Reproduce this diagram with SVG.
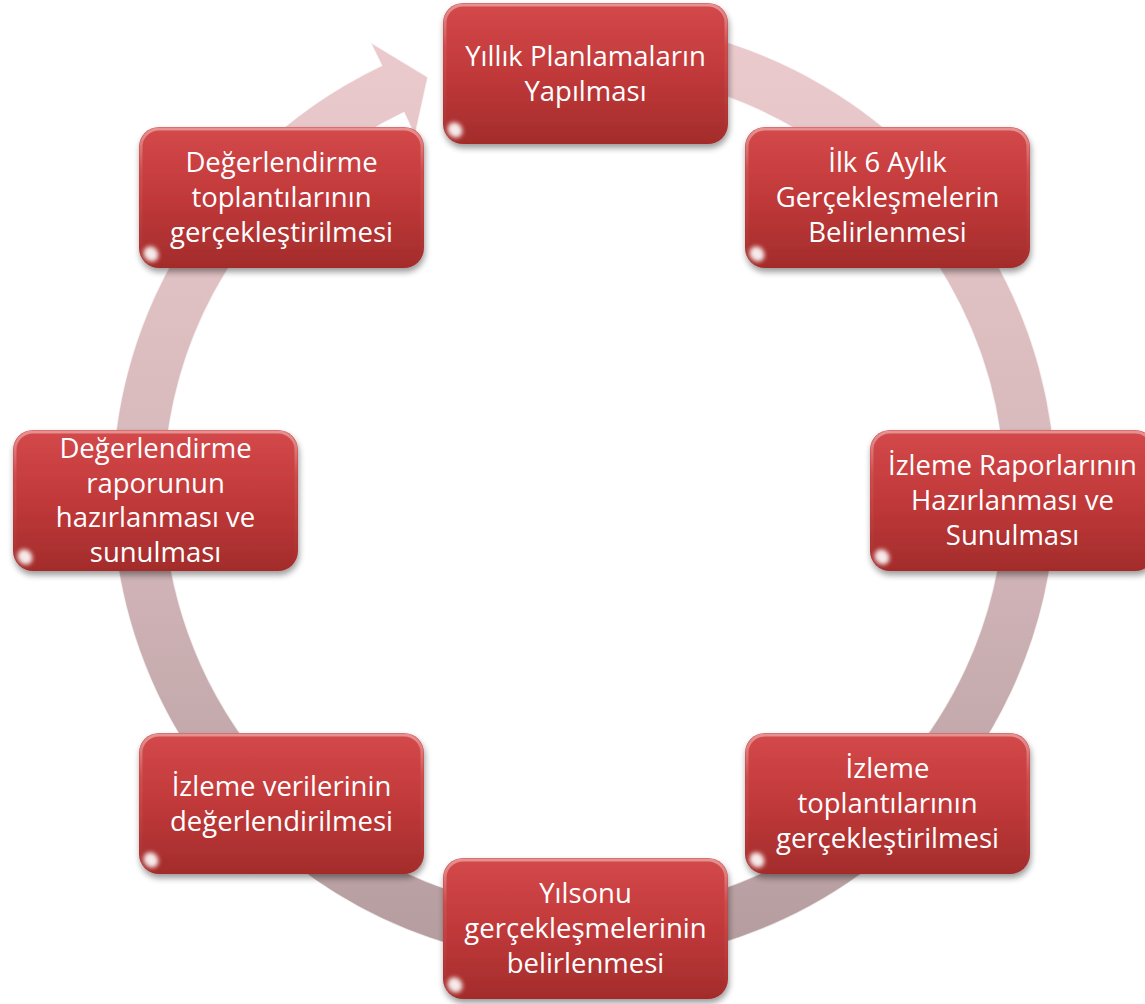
<svg xmlns="http://www.w3.org/2000/svg" width="1145" height="1004" viewBox="0 0 1145 1004">
<defs>
<style>
.t { font-family: "Open Sans", "Noto Sans", sans-serif; font-size: 27.5px; fill: #ffffff; text-anchor: middle; }
</style>
<linearGradient id="ringGrad" gradientUnits="userSpaceOnUse" x1="0" y1="20" x2="0" y2="965">
<stop offset="0" stop-color="#eccbce"/>
<stop offset="0.5" stop-color="#d5b8bb"/>
<stop offset="1" stop-color="#b49c9e"/>
</linearGradient>
<linearGradient id="boxGrad" x1="0" y1="0" x2="0" y2="1">
<stop offset="0" stop-color="#d4494a"/>
<stop offset="0.5" stop-color="#c1393a"/>
<stop offset="1" stop-color="#a32c2b"/>
</linearGradient>
<linearGradient id="edgeGrad" x1="0" y1="0" x2="0" y2="1">
<stop offset="0" stop-color="#ffffff" stop-opacity="0.4"/>
<stop offset="0.3" stop-color="#ffffff" stop-opacity="0.08"/>
<stop offset="1" stop-color="#ffffff" stop-opacity="0"/>
</linearGradient>
<filter id="shadow" x="-10%" y="-10%" width="125%" height="130%">
<feGaussianBlur in="SourceAlpha" stdDeviation="3"/>
<feOffset dx="1" dy="4"/>
<feComponentTransfer><feFuncA type="linear" slope="0.4"/></feComponentTransfer>
<feMerge><feMergeNode/><feMergeNode in="SourceGraphic"/></feMerge>
</filter>
<filter id="soft" x="-100%" y="-100%" width="300%" height="300%"><feGaussianBlur stdDeviation="2.2"/></filter>
<g id="box">
<rect width="285" height="141" rx="20" fill="url(#boxGrad)" filter="url(#shadow)"/>
<rect x="2" y="2" width="281" height="137" rx="18" fill="none" stroke="url(#edgeGrad)" stroke-width="3"/>
<ellipse cx="12" cy="127" rx="7" ry="8" transform="rotate(-40 12 127)" fill="#ffffff" opacity="0.9" filter="url(#soft)"/>
</g>
</defs>
<rect width="1145" height="1004" fill="#ffffff"/>
<g id="connectors">
<path id="cycle-arrow" d="M 625.1 21.8 A 472 472 0 1 1 381.6 65.6 L 370.4 42.2 L 428 77 L 415 136.1 L 403.9 112.6 A 420 420 0 1 0 620.6 73.6 Z" fill="url(#ringGrad)" stroke="#ffffff" stroke-opacity="0.7" stroke-width="1.5"/>
</g>
<g id="node1"><use href="#box" x="443" y="3"/>
<text class="t" x="585.5" y="65.5">Yıllık Planlamaların</text>
<text class="t" x="585.5" y="100.5">Yapılması</text></g>
<g id="node2"><use href="#box" x="745" y="127"/>
<text class="t" x="887.5" y="172">İlk 6 Aylık</text>
<text class="t" x="887.5" y="207">Gerçekleşmelerin</text>
<text class="t" x="887.5" y="242">Belirlenmesi</text></g>
<g id="node3"><use href="#box" x="870" y="430"/>
<text class="t" x="1012.5" y="475">İzleme Raporlarının</text>
<text class="t" x="1012.5" y="510">Hazırlanması ve</text>
<text class="t" x="1012.5" y="545">Sunulması</text></g>
<g id="node4"><use href="#box" x="745" y="733"/>
<text class="t" x="887.5" y="778">İzleme</text>
<text class="t" x="887.5" y="813">toplantılarının</text>
<text class="t" x="887.5" y="848">gerçekleştirilmesi</text></g>
<g id="node5"><use href="#box" x="443" y="858"/>
<text class="t" x="585.5" y="903">Yılsonu</text>
<text class="t" x="585.5" y="938">gerçekleşmelerinin</text>
<text class="t" x="585.5" y="973">belirlenmesi</text></g>
<g id="node6"><use href="#box" x="139" y="733"/>
<text class="t" x="281.5" y="795.5">İzleme verilerinin</text>
<text class="t" x="281.5" y="830.5">değerlendirilmesi</text></g>
<g id="node7"><use href="#box" x="13" y="430"/>
<text class="t" x="155.5" y="458.3">Değerlendirme</text>
<text class="t" x="155.5" y="492.8">raporunun</text>
<text class="t" x="155.5" y="527.3">hazırlanması ve</text>
<text class="t" x="155.5" y="561.8">sunulması</text></g>
<g id="node8"><use href="#box" x="139" y="127"/>
<text class="t" x="281.5" y="172">Değerlendirme</text>
<text class="t" x="281.5" y="207">toplantılarının</text>
<text class="t" x="281.5" y="242">gerçekleştirilmesi</text></g>
</svg>
